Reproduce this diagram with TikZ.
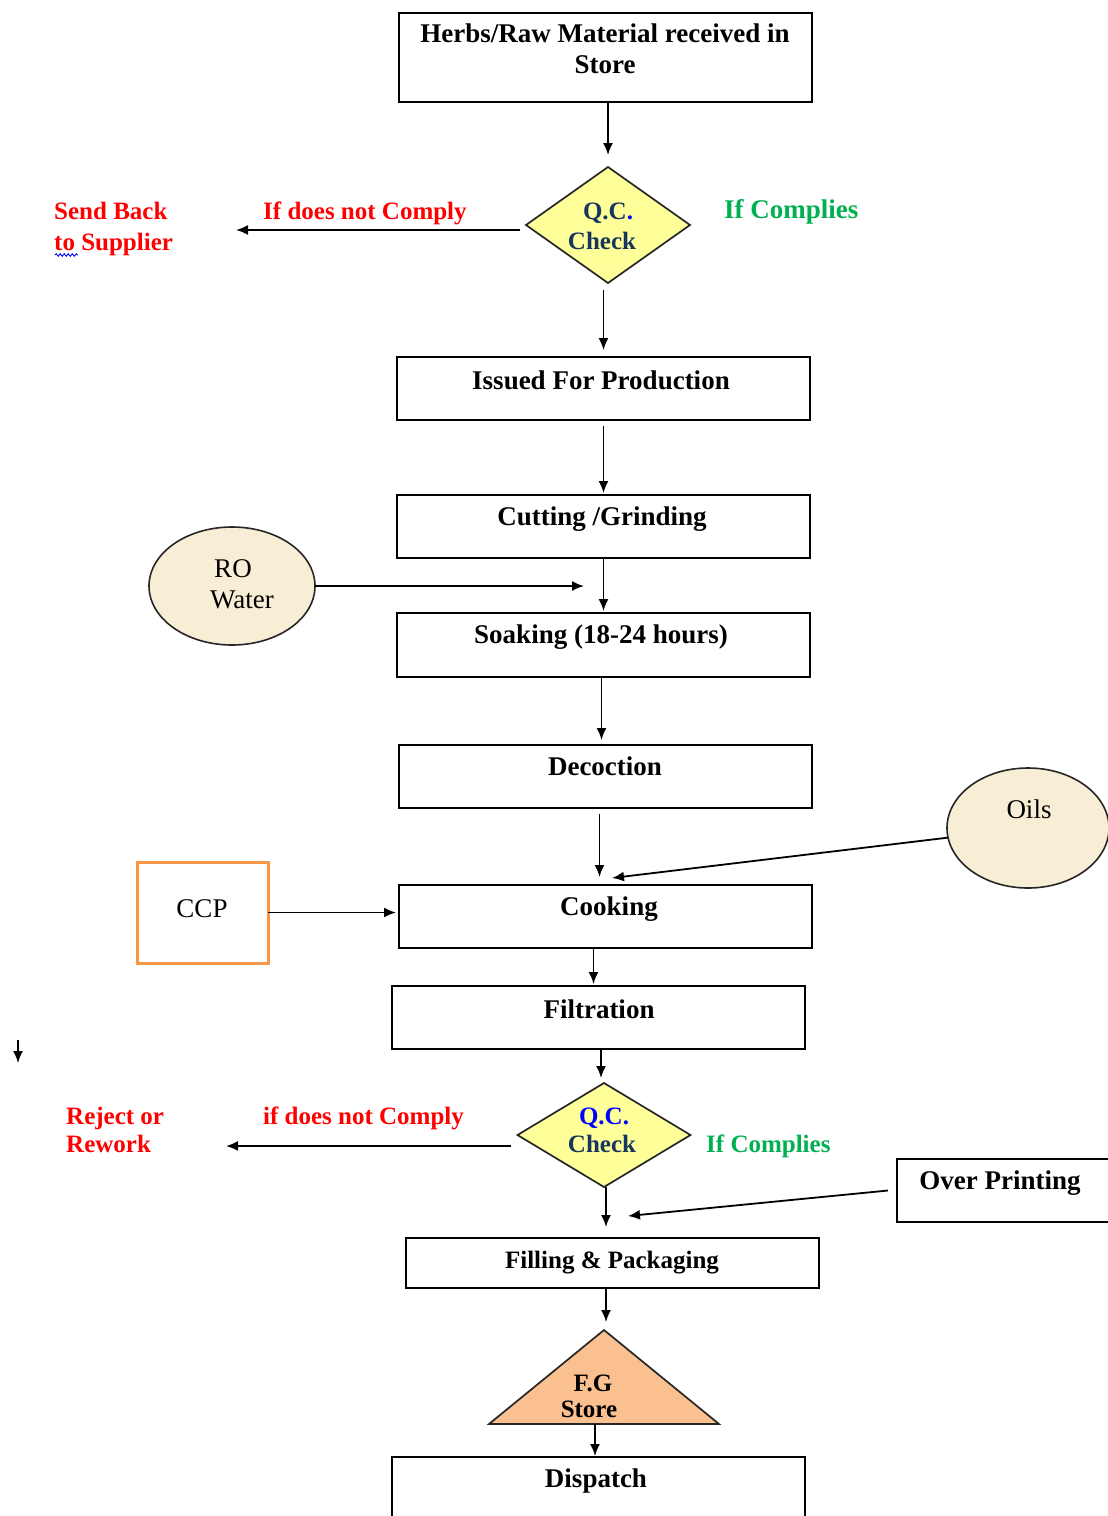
\documentclass[tikz,border=0pt]{standalone}
\usepackage{fontspec}
\setmainfont{Liberation Serif}
\usetikzlibrary{arrows.meta,shapes.geometric,decorations.pathmorphing}
\definecolor{qcyellow}{HTML}{FFFF99}
\definecolor{cream}{HTML}{F8EDD5}
\definecolor{fgorange}{HTML}{FAC090}
\definecolor{ccporange}{HTML}{F79646}
\definecolor{redtxt}{HTML}{FF0000}
\definecolor{greentxt}{HTML}{00B050}
\definecolor{navytxt}{HTML}{17365D}
\definecolor{bluetxt}{HTML}{0000FF}
\begin{document}
\begin{tikzpicture}[x=1pt,y=-1pt,
  procbox/.style={draw, line width=1.9pt, minimum width=413pt, minimum height=63pt, inner sep=0pt, outer sep=0pt},
  qcdiamond/.style={diamond, draw=black!85, line width=1.7pt, fill=qcyellow, inner sep=0pt, outer sep=0pt},
  inellipse/.style={ellipse, draw=black!85, line width=1.6pt, fill=cream, inner sep=0pt, outer sep=0pt},
  arr/.style={-{Latex[length=12pt,width=10pt]}, line width=1.8pt},
  bx/.style={font=\fontsize{27}{31}\selectfont\bfseries, anchor=base, inner sep=0pt},
  bxn/.style={font=\fontsize{27}{31}\selectfont, anchor=base, inner sep=0pt},
  lb/.style={font=\fontsize{25}{30}\selectfont\bfseries, anchor=base west, inner sep=0pt},
  qct/.style={font=\fontsize{25}{30}\selectfont\bfseries, anchor=base, inner sep=0pt}]
\useasboundingbox (0,0) rectangle (1108,1516);
\clip (0,0) rectangle (1108,1516);

% ---------- boxes ----------
\node[procbox, minimum height=89pt] (b1) at (605.5,57.5) {};
\node[bx] (t1a) at (605,42) {Herbs/Raw Material received in};
\node[bx] (t1b) at (605,73) {Store};

\node[qcdiamond, minimum width=164pt, minimum height=116pt] (qc1) at (608,225) {};
\node[qct, text=navytxt] (q1a) at (608,219) {Q.C\textcolor{bluetxt}{.}};
\node[qct, text=navytxt] (q1b) at (602,249) {Check};

\node[lb, text=redtxt] (nc1) at (263,219) {If does not Comply};
\node[lb, text=redtxt] (sb1) at (54,219) {Send Back};
\node[lb, text=redtxt] (sb2) at (54,250) {to Supplier};
\draw[bluetxt, line width=0.9pt, decorate, decoration={snake, amplitude=1.3pt, segment length=4pt}] (55,255) -- (78,255);
\node[lb, text=greentxt, font=\fontsize{27}{30}\selectfont\bfseries] (ok1) at (724,218) {If Complies};
\coordinate (sendend) at (236,230);

\node[procbox] (iss) at (603.5,388.5) {};
\node[bx] (tiss) at (601,389) {Issued For Production};

\node[procbox] (cut) at (603.5,526.5) {};
\node[bx] (tcut) at (602,525) {Cutting /Grinding};

\node[inellipse, minimum width=166pt, minimum height=118pt] (ro) at (232,586) {};
\node[bxn] (tro1) at (233,577) {RO};
\node[bxn] (tro2) at (242,608) {Water};
\coordinate (roend) at (584,586);

\node[procbox, minimum height=64pt] (soak) at (603.5,645) {};
\node[bx] (tsoak) at (601,643) {Soaking (18-24 hours)};

\node[procbox] (dec) at (605.5,776.5) {};
\node[bx] (tdec) at (605,775) {Decoction};

\node[inellipse, minimum width=162pt, minimum height=120pt] (oils) at (1028,828) {};
\node[bxn] (toils) at (1029,818) {Oils};
\coordinate (oilsend) at (612,878);

\node[draw=ccporange, line width=3pt, minimum width=131pt, minimum height=101pt, inner sep=0pt, outer sep=0pt] (ccp) at (202.5,912.5) {};
\node[bxn] (tccp) at (202,917) {CCP};

\node[procbox] (cook) at (605.5,916.5) {};
\node[bx] (tcook) at (609,915) {Cooking};

\node[procbox] (filt) at (598.5,1017.5) {};
\node[bx] (tfilt) at (599,1018) {Filtration};

\coordinate (stray1) at (18,1040);
\coordinate (stray2) at (18,1063);

\node[qcdiamond, minimum width=173pt, minimum height=104pt] (qc2) at (604,1135) {};
\node[qct, text=bluetxt] (q2a) at (604,1124) {Q.C.};
\node[qct, text=navytxt] (q2b) at (602,1152) {Check};

\node[lb, text=redtxt] (nc2) at (263,1124) {if does not Comply};
\node[lb, text=redtxt] (rj1) at (66,1124) {Reject or};
\node[lb, text=redtxt] (rj2) at (66,1152) {Rework};
\node[lb, text=greentxt] (ok2) at (706,1152) {If Complies};
\coordinate (rejend) at (226,1146);

\node[procbox, minimum width=223pt] (over) at (1008.5,1190.5) {};
\node[bx] (tover) at (1000,1189) {Over Printing};
\coordinate (overend) at (628,1216);

\node[procbox, minimum height=50pt] (fill) at (612.5,1263) {};
\node[qct] (tfill) at (612,1268) {Filling \& Packaging};

% F.G store triangle
\coordinate (fgtop) at (604,1330);
\coordinate (fgbase) at (595,1424);
\filldraw[fill=fgorange, draw=black!85, line width=1.7pt] (fgtop) -- (719,1424) -- (489,1424) -- cycle;
\node[qct] (tfg1) at (593,1391) {F.G};
\node[qct] (tfg2) at (589,1417) {Store};

\node[procbox, minimum height=80pt] (disp) at (598.5,1497) {};
\node[bx] (tdisp) at (596,1487) {Dispatch};

% ---------- connectors ----------
\draw[arr, shorten >=12pt] (b1.south -| qc1.north) -- (qc1.north);
\draw[arr, shorten <=6pt] (qc1.west |- sendend) -- (sendend);
\draw[arr, shorten <=7pt, shorten >=7pt] (qc1.south -| iss.north) -- (iss.north);
\draw[arr, shorten <=6pt, shorten >=2pt] (iss.south) -- (cut.north);
\draw[arr, shorten >=2pt] (cut.south) -- (soak.north);
\draw[arr] (ro.east |- roend) -- (roend);
\draw[arr, shorten >=5pt] ([xshift=-2pt]soak.south) -- ([xshift=-2pt]soak.south |- dec.north);
\draw[arr, shorten <=6pt, shorten >=8pt] ([xshift=-6pt]dec.south) -- ([xshift=-6pt]dec.south |- cook.north);
\draw[arr] (oils) -- (oilsend);
\draw[arr, shorten >=3pt] (ccp.east) -- (ccp.east -| cook.west);
\draw[arr, shorten >=2pt] ([xshift=-12pt]cook.south) -- ([xshift=-12pt]cook.south |- filt.north);
\draw[arr, shorten >=5pt] ([xshift=2.5pt]filt.south) -- ([xshift=2.5pt]filt.south |- qc2.north);
\draw[arr] (stray1) -- (stray2);
\draw[arr, shorten <=7pt] (qc2.west |- rejend) -- (rejend);
\draw[arr, shorten >=11pt] ([xshift=2pt]qc2.south) -- ([xshift=2pt]qc2.south |- fill.north);
\draw[arr] ([xshift=-9pt]over.west) -- (overend);
\draw[arr, shorten >=8pt] ([xshift=2pt]fill.south -| fgtop) -- ([xshift=2pt]fgtop);
\draw[arr, shorten >=1pt] (fgbase) -- (fgbase |- disp.north);
\end{tikzpicture}
\end{document}
